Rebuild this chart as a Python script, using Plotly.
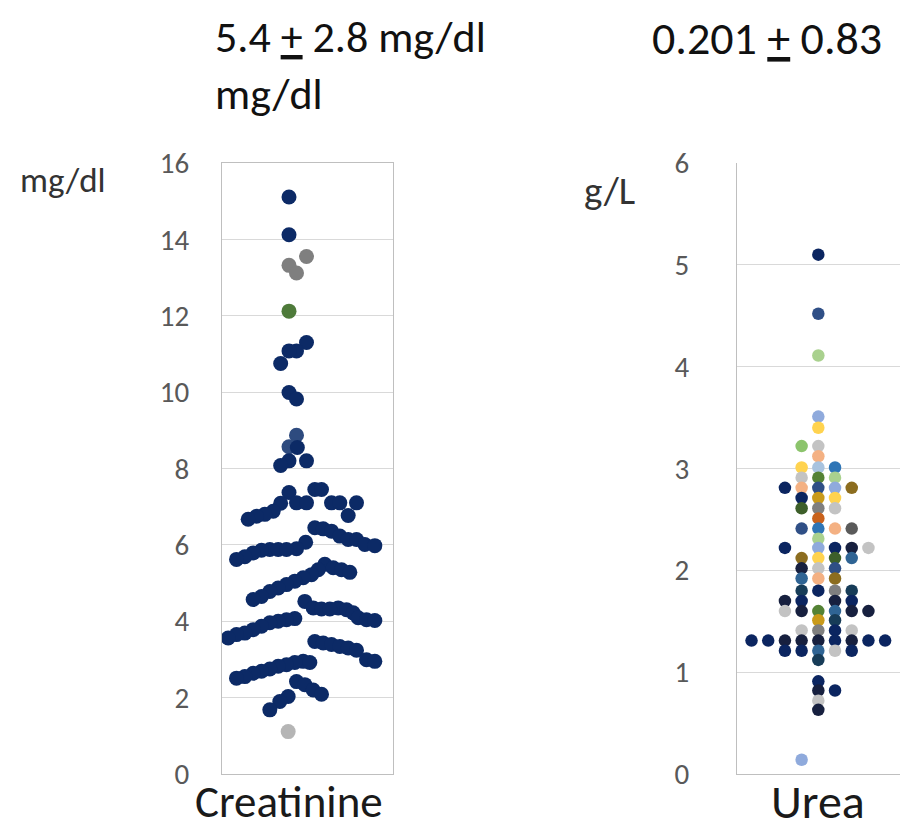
import plotly.graph_objects as go

# ---------------- data ----------------
# Creatinine (mg/dl): value, horizontal spread slot, group
creat_vals = [15.11, 14.12, 13.55, 13.32, 13.12, 12.12, 11.30, 11.08, 11.08, 10.75,
              9.99, 9.82, 8.87, 8.57, 8.55, 8.20, 8.20, 8.08,
              7.45, 7.45, 7.37, 7.10, 7.10, 7.10, 7.10, 7.10, 7.09, 6.88, 6.80, 6.77, 6.75, 6.67,
              6.45, 6.42, 6.36, 6.23, 6.14, 6.14, 6.07, 6.01, 5.98,
              5.90, 5.88, 5.88, 5.88, 5.86, 5.79, 5.69, 5.62,
              5.49, 5.40, 5.35, 5.35, 5.28, 5.22, 5.14, 5.05, 4.96, 4.87, 4.78, 4.65, 4.57,
              4.52, 4.35, 4.35, 4.32, 4.32, 4.30, 4.22, 4.09, 4.04, 4.02,
              4.07, 4.04, 4.00, 3.96, 3.87, 3.78, 3.69, 3.65, 3.56,
              3.47, 3.43, 3.39, 3.34, 3.30, 3.24, 2.99, 2.95,
              2.95, 2.92, 2.92, 2.86, 2.82, 2.75, 2.69, 2.64, 2.55, 2.51,
              2.42, 2.34, 2.20, 2.09, 2.03, 1.90, 1.68, 1.11]
creat_spread = [0.0, 0.0, 2.1, 0.0, 0.9, 0.0, 2.1, 0.9, 0.0, -1.0,
                0.0, 0.9, 0.9, 0.0, 1.0, 0.0, 2.1, -1.0,
                3.1, 3.9, 0.0, 0.9, 2.1, 5.1, 6.1, 8.1, -1.0, -1.9, -2.9, 7.1, -3.9, -4.9,
                3.1, 4.1, 5.1, 6.1, 7.1, 8.1, 2.0, 9.1, 10.3,
                0.9, -2.3, -1.3, -0.3, -3.3, -4.3, -5.3, -6.3,
                4.3, 5.3, 3.5, 6.3, 7.3, 2.7, 1.7, 0.7, -0.3, -1.3, -2.3, -3.3, -4.3,
                1.9, 2.9, 5.9, 3.9, 4.9, 6.9, 7.7, 8.3, 9.3, 10.3,
                0.7, -0.3, -1.3, -2.3, -3.3, -4.3, -5.3, -6.3, -7.3,
                3.1, 4.1, 5.1, 6.1, 7.1, 8.1, 9.3, 10.3,
                1.7, 0.7, 2.5, -0.3, -1.3, -2.3, -3.3, -4.3, -5.3, -6.3,
                0.9, 1.9, 2.9, 3.9, -0.1, -1.1, -2.3, -0.1]
creat_group = (["a", "a", "g", "g", "g", "e"] + ["a"] * 6 + ["d", "d"] + ["a"] * 92 + ["l"])

# Urea (g/L): value, column slot, colour key
urea_vals = [5.10, 4.52, 4.11, 3.51, 3.40,
             3.22, 3.22, 3.12,
             3.01, 3.01, 3.01,
             2.91, 2.91, 2.91,
             2.81, 2.81, 2.81, 2.81, 2.81,
             2.71, 2.71, 2.71,
             2.61, 2.61, 2.61,
             2.51,
             2.41, 2.41, 2.41, 2.41,
             2.31,
             2.22, 2.22, 2.22, 2.22, 2.22,
             2.12, 2.12, 2.12, 2.12,
             2.02, 2.02, 2.02,
             1.92, 1.92, 1.92,
             1.80, 1.80, 1.80, 1.80,
             1.70, 1.70, 1.70, 1.70,
             1.60, 1.60, 1.60, 1.60, 1.60, 1.60,
             1.51, 1.51,
             1.41, 1.41, 1.41, 1.41,
             1.31, 1.31, 1.31, 1.31, 1.31, 1.31, 1.31, 1.31, 1.31,
             1.21, 1.21, 1.21, 1.21, 1.21,
             1.12, 0.91, 0.82, 0.82, 0.72, 0.63, 0.14]
urea_slot = [0, 0, 0, 0, 0,
             -1, 0, 0,
             -1, 0, 1,
             -1, 0, 1,
             -2, -1, 0, 1, 2,
             -1, 0, 1,
             -1, 0, 1,
             0,
             -1, 0, 1, 2,
             0,
             -2, 0, 1, 2, 3,
             -1, 0, 1, 2,
             -1, 0, 1,
             -1, 0, 1,
             -1, 0, 1, 2,
             -2, -1, 1, 2,
             -2, -1, 0, 1, 2, 3,
             0, 1,
             -1, 0, 1, 2,
             -4, -3, -2, -1, 0, 1, 2, 3, 4,
             -2, -1, 0, 1, 2,
             0, 0, 0, 1, 0, 0, -1]
urea_color_key = ["navy", "dkblue", "ltgreen", "ltblue", "yellow",
                  "medgreen", "ltgray", "ltorange",
                  "yellow", "ltsteel", "blue",
                  "ltgray", "green", "ltgreen",
                  "navy", "ltorange", "dkblue", "ltblue", "olive",
                  "navy", "gold", "yellow",
                  "dkgreen", "gray", "ltgray",
                  "orange",
                  "dkblue", "blue", "ltorange", "dkgray",
                  "ltgreen",
                  "navy", "ltblue", "navy", "darkest", "ltgray",
                  "olive", "yellow", "dkgreen", "steel",
                  "darkest", "ltgray", "dkblue",
                  "steel", "ltorange", "olive",
                  "dkteal", "navy", "gray", "dkteal",
                  "darkest", "navy", "darkest", "navy",
                  "ltgray", "darkest", "green", "steel", "darkest", "darkest",
                  "gold", "dkteal",
                  "ltgray", "gray", "navy", "ltgray",
                  "navy", "navy", "darkest", "darkest", "darkest", "navy", "darkest", "navy", "navy",
                  "navy", "navy", "steel", "ltgray", "navy",
                  "dkteal", "navy", "darkest", "navy", "ltgray", "darkest", "ltblue"]

y_ticks_creat = [0, 2, 4, 6, 8, 10, 12, 14, 16]
y_ticks_urea = [0, 1, 2, 3, 4, 5, 6]
categories = ["Creatinine", "Urea"]
titles = ["5.4 <u>+</u> 2.8 mg/dl<br>mg/dl", "0.201 <u>+</u> 0.83"]
units = ["mg/dl", "g/L"]

# ---------------- styles ----------------
creat_palette = {"a": "#0c2a66", "g": "#7f7f7f", "e": "#4e7a3a", "d": "#2e4b7f", "l": "#b5b5b5"}
urea_palette = {
    "navy": "#0b2560", "darkest": "#17203f", "dkblue": "#2f4f86", "blue": "#2e75b6",
    "ltblue": "#8faadc", "ltsteel": "#a8c3df", "ltgreen": "#a9d18e", "medgreen": "#8cc46c",
    "green": "#548235", "dkgreen": "#3d5f2a", "gold": "#c99a1a", "olive": "#8c6d1f",
    "yellow": "#ffd34f", "orange": "#c9621c", "ltorange": "#f4b183", "gray": "#7f7f7f",
    "dkgray": "#5a5a5a", "ltgray": "#c3c3c3", "steel": "#2f6494", "dkteal": "#173c58",
}
FONT = "Carlito, Calibri, Lato, sans-serif"
W, H = 900, 832
T, B = 163, 58
PH = H - T - B

fig = go.Figure()
fig.add_trace(go.Scatter(
    x=creat_spread, y=creat_vals, mode="markers",
    marker=dict(size=15, color=[creat_palette[g] for g in creat_group], line=dict(width=0)),
    xaxis="x", yaxis="y", showlegend=False, hoverinfo="skip"))
fig.add_trace(go.Scatter(
    x=urea_slot, y=urea_vals, mode="markers",
    marker=dict(size=12.5, color=[urea_palette[c] for c in urea_color_key], line=dict(width=0)),
    xaxis="x2", yaxis="y2", showlegend=False, hoverinfo="skip"))

axis_common = dict(showline=True, linecolor="#bfbfbf", linewidth=1, zeroline=False,
                   fixedrange=True, automargin=False)

fig.update_layout(
    template="none",
    width=W, height=H, autosize=False,
    margin=dict(l=0, r=0, t=T, b=B, pad=0),
    paper_bgcolor="white", plot_bgcolor="white",
    font=dict(family=FONT),
    xaxis=dict(domain=[222 / W, 393 / W], range=[-8.04, 12.48], showgrid=False,
               showticklabels=False, ticks="", mirror=True, anchor="y", **axis_common),
    yaxis=dict(domain=[0, 1], range=[0, 16], tickvals=y_ticks_creat, showgrid=True,
               gridcolor="#d9d9d9", gridwidth=1, ticks="outside", ticklen=26,
               tickcolor="rgba(0,0,0,0)",
               tickfont=dict(size=29, color="#595959"), mirror=True, anchor="x", **axis_common),
    xaxis2=dict(domain=[737 / W, 1.0], range=[-4.87, 4.89], showgrid=False,
                showticklabels=False, ticks="", anchor="y2", **axis_common),
    yaxis2=dict(domain=[0, 1], range=[0, 6], tickvals=y_ticks_urea, showgrid=True,
                gridcolor="#d9d9d9", gridwidth=1, ticks="outside", ticklen=41,
                tickcolor="rgba(0,0,0,0)",
                tickfont=dict(size=29, color="#595959"), anchor="x2", **axis_common),
)


def py(p):
    return (H - B - p) / PH


ann = [
    dict(text=units[0], x=18 / W, y=py(180), size=35, color="#333333", xa="left", ya="middle"),
    dict(text=units[1], x=582 / W, y=py(190), size=39, color="#333333", xa="left", ya="middle"),
    dict(text=titles[0], x=213 / W, y=py(8), size=44, color="#111111", xa="left", ya="top"),
    dict(text=titles[1], x=650 / W, y=py(8), size=46, color="#111111", xa="left", ya="top"),
    dict(text=categories[0], x=289 / W, y=py(801), size=45, color="#1a1a1a", xa="center", ya="middle"),
    dict(text=categories[1], x=818 / W, y=py(801), size=48, color="#1a1a1a", xa="center", ya="middle"),
]
for a in ann:
    fig.add_annotation(text=a["text"], x=a["x"], y=a["y"], xref="paper", yref="paper",
                       xanchor=a["xa"], yanchor=a["ya"], align="left", showarrow=False,
                       font=dict(family=FONT, size=a["size"], color=a["color"]))

fig.write_html("out.html")
